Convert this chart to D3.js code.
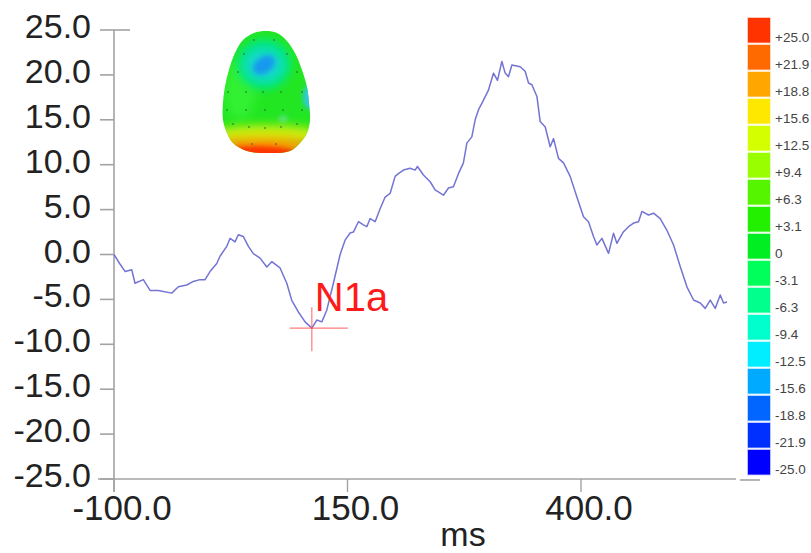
<!DOCTYPE html>
<html>
<head>
<meta charset="utf-8">
<script src="https://cdn.jsdelivr.net/npm/d3@7"></script>
<style>
  html, body { margin: 0; padding: 0; background: #fff; }
  svg { display: block; font-family: "Liberation Sans", Arial, sans-serif; }
</style>
</head>
<body>
<svg id="chart" width="811" height="553"></svg>
<script>
// Waveform: time (ms) and amplitude (µV)
const timeMs = [-100, -94, -88, -81, -77.5, -68.6, -61.4, -52.5, -38.2, -31.1, -22.1, -15.1, -7.9, -2.5,
  2.8, 10, 13.5, 20.7, 24.3, 29.6, 33.1, 38.5, 43.9, 49.2, 56.4, 63.6, 68.9, 77.8, 85, 90.3, 97.4,
  104.6, 111.8, 117.1, 122.5, 127.8, 134.9, 142.1, 147.4, 152.8, 156.3, 161.7, 167, 170.7, 174.2,
  179.6, 184.9, 190.3, 195.6, 201, 204.5, 209.9, 217, 222.4, 224.9, 231.3, 238.5, 243.8, 252.7,
  258.1, 263.4, 268.8, 274.1, 277.8, 283.1, 286.7, 290.2, 295.6, 300.9, 306.3, 310.6, 315.3, 318.8,
  322.3, 326, 334.9, 340.2, 343.8, 347.4, 352.8, 356.3, 361.7, 367, 370.6, 375.9, 381.3, 388.4,
  395.6, 402.7, 408, 413.4, 417, 422.4, 429.5, 434.8, 438.4, 445.5, 450.9, 456.3, 461.6, 465.2,
  472.3, 477.7, 484.8, 492, 499.1, 506.3, 513.4, 520.5, 527.7, 533, 538.4, 543.7, 549.1, 552.6, 556.3];
const amplitude = [0, -1.0, -1.9, -1.7, -3.2, -2.8, -4.0, -4.0, -4.3, -3.6, -3.4, -3.0, -2.8, -2.8,
  -1.9, -1.0, -0.2, 0.9, 1.8, 1.4, 2.2, 2.0, 0.9, 0.1, -0.4, -1.4, -0.8, -1.5, -3.2, -5.1, -6.4,
  -7.5, -8.2, -7.3, -7.5, -6.2, -3.2, 0.0, 1.6, 2.4, 2.5, 3.65, 3.3, 3.1, 4.0,
  3.65, 5.1, 6.4, 6.8, 8.7, 9.0, 9.4, 9.6, 9.4, 9.8, 8.85, 8.1, 7.2, 6.6,
  7.4, 7.55, 9.0, 10.2, 12.4, 13.1, 15.0, 16.1, 17.2, 18.3, 20.2, 19.4, 21.5, 20.2,
  19.8, 21.1, 20.9, 20.4, 19.1, 18.9, 17.6, 14.8, 14.2, 12.0, 12.9, 10.7, 10.2, 8.7,
  6.4, 4.2, 3.65, 2.0, 1.06, 1.8, 0.13, 2.36, 1.25, 2.54, 3.1, 3.5, 3.65, 4.8,
  4.4, 4.6, 4.0, 2.7, 1.06, -1.36, -3.6, -5.07, -5.4, -6.0, -5.07, -6.0, -4.5, -5.4, -5.3];

// Axis ticks
const xTicks = [-100, 150, 400];
const yTicks = [25, 20, 15, 10, 5, 0, -5, -10, -15, -20, -25];

// Labelled component
const peakName = "N1a";
const peakTime = 111.8;
const peakValue = -8.2;

// Colour legend (µV)
const legendLabels = ["+25.0", "+21.9", "+18.8", "+15.6", "+12.5", "+9.4", "+6.3", "+3.1", "0",
  "-3.1", "-6.3", "-9.4", "-12.5", "-15.6", "-18.8", "-21.9", "-25.0"];
const legendColors = ["#ff3300", "#ff6a00", "#ffa600", "#ffe800", "#d4ff00", "#99ff00", "#55f500", "#22f000",
  "#00ee22", "#00ff5a", "#00ff8c", "#00ffcc", "#00eeff", "#00aaff", "#0066ff", "#0030ff", "#0000ff"];

const svg = d3.select("#chart");

const x = d3.scaleLinear().domain([-100, 400]).range([114, 581]);
const y = d3.scaleLinear().domain([-25, 25]).range([479, 30]);
// one decimal, plain hyphen for the minus sign
const fmt = d => d3.format(".1f")(d).replace("\u2212", "-");

const axisColor = "#a3a3a3";
const g = svg.append("g");

// y axis line and ticks
g.append("line").attr("x1", x(-100)).attr("x2", x(-100)).attr("y1", y(25)).attr("y2", y(-25) + 13)
  .attr("stroke", axisColor).attr("stroke-width", 1.6);
g.selectAll(".ytick").data(yTicks).join("line")
  .attr("x1", 100).attr("x2", d => d === 25 ? 130 : x(-100))
  .attr("y1", d => y(d)).attr("y2", d => y(d))
  .attr("stroke", axisColor).attr("stroke-width", 1.6);
g.selectAll(".ylab").data(yTicks).join("text")
  .attr("x", 91).attr("y", d => y(d) + 8)
  .attr("text-anchor", "end").attr("font-size", 34).attr("fill", "#222")
  .text(fmt);

// x axis line and ticks
g.append("line").attr("x1", 98).attr("x2", 736).attr("y1", y(-25)).attr("y2", y(-25))
  .attr("stroke", axisColor).attr("stroke-width", 1.6);
g.selectAll(".xtick").data(xTicks).join("line")
  .attr("x1", d => x(d)).attr("x2", d => x(d))
  .attr("y1", y(-25)).attr("y2", y(-25) + 13)
  .attr("stroke", axisColor).attr("stroke-width", 1.4);
g.selectAll(".xlab").data(xTicks).join("text")
  .attr("x", d => x(d) + 8).attr("y", 520)
  .attr("text-anchor", "middle").attr("font-size", 35).attr("fill", "#222")
  .text(fmt);
g.append("text").attr("x", 463).attr("y", 546).attr("text-anchor", "middle")
  .attr("font-size", 34).attr("fill", "#222").text("ms");

// waveform
const pts = timeMs.map((t, i) => [t, amplitude[i]]);
g.append("path").datum(pts)
  .attr("fill", "none").attr("stroke", "#7474d4").attr("stroke-width", 1.5)
  .attr("stroke-linejoin", "round")
  .attr("d", d3.line().x(d => x(d[0])).y(d => y(d[1])));

// peak marker
const px = x(peakTime), py = y(peakValue);
g.append("line").attr("x1", px - 22).attr("x2", px + 36).attr("y1", py).attr("y2", py)
  .attr("stroke", "#ff5a5a").attr("stroke-width", 1.2).attr("opacity", 0.8);
g.append("line").attr("x1", px).attr("x2", px).attr("y1", py - 21).attr("y2", py + 23)
  .attr("stroke", "#ff5a5a").attr("stroke-width", 1.2).attr("opacity", 0.8);
g.append("text").attr("x", px + 3).attr("y", py - 17)
  .attr("font-size", 40).attr("fill", "#ff1a1a").text(peakName);

// colour legend
const leg = svg.append("g");
leg.selectAll("rect").data(legendColors).join("rect")
  .attr("x", 748).attr("y", (d, i) => 18 + i * 27)
  .attr("width", 22).attr("height", 24.5)
  .attr("fill", d => d).attr("stroke", d => d).attr("stroke-opacity", 0.35).attr("stroke-width", 1.5);
leg.selectAll("text").data(legendLabels).join("text")
  .attr("x", 775).attr("y", (d, i) => 18 + i * 27 + 24)
  .attr("font-size", 13.5).attr("fill", "#444").text(d => d);
leg.append("line").attr("x1", 740).attr("x2", 760).attr("y1", 480).attr("y2", 480)
  .attr("stroke", axisColor).attr("stroke-width", 1.6);

// scalp map
const defs = svg.append("defs");
const headOutline = [[266, 31], [277, 33], [286, 40], [295, 53], [302, 70], [307, 87], [309, 103],
  [310, 120], [307, 133], [300, 143], [290, 151], [268, 153], [247, 151], [233, 143], [227, 133],
  [223, 120], [223, 103], [225, 87], [229, 70], [235, 53], [243, 40], [254, 33]];
const headPath = d3.line().curve(d3.curveCatmullRomClosed)(headOutline);
defs.append("clipPath").attr("id", "head").append("path").attr("d", headPath);
const blur = defs.append("filter").attr("id", "soft").attr("x", "-50%").attr("y", "-50%")
  .attr("width", "200%").attr("height", "200%");
blur.append("feGaussianBlur").attr("stdDeviation", 5);
const blurS = defs.append("filter").attr("id", "softS").attr("x", "-50%").attr("y", "-50%")
  .attr("width", "200%").attr("height", "200%");
blurS.append("feGaussianBlur").attr("stdDeviation", 2.5);

const head = svg.append("g").attr("clip-path", "url(#head)");
head.append("rect").attr("x", 210).attr("y", 25).attr("width", 110).attr("height", 135).attr("fill", "#22e622");
const blobs = [
  { cx: 240, cy: 90, rx: 16, ry: 30, fill: "#33f033", f: "soft" },
  { cx: 264, cy: 64, rx: 27, ry: 25, fill: "#00e68a", f: "soft" },
  { cx: 264, cy: 65, rx: 19, ry: 16, fill: "#14d8cc", f: "soft" },
  { cx: 264, cy: 65, rx: 12, ry: 8, fill: "#1899ee", f: "softS", rot: -35 },
  { cx: 309, cy: 97, rx: 6, ry: 12, fill: "#30c8e0", f: "softS" },
  { cx: 283, cy: 119, rx: 4, ry: 3, fill: "#66ddaa", f: "softS" },
  { cx: 266, cy: 136, rx: 60, ry: 11, fill: "#ccee10", f: "soft" },
  { cx: 262, cy: 146, rx: 52, ry: 8, fill: "#ff9a00", f: "soft" },
  { cx: 256, cy: 154, rx: 42, ry: 8, fill: "#ff3000", f: "softS" }
];
head.selectAll("ellipse").data(blobs).join("ellipse")
  .attr("cx", d => d.cx).attr("cy", d => d.cy).attr("rx", d => d.rx).attr("ry", d => d.ry)
  .attr("transform", d => d.rot ? `rotate(${d.rot},${d.cx},${d.cy})` : null)
  .attr("fill", d => d.fill).attr("filter", d => `url(#${d.f})`);

// electrode positions
const electrodes = [[254, 40], [274, 40], [244, 54], [287, 54], [238, 72], [297, 72],
  [228, 92], [246, 92], [263, 92], [281, 92], [302, 92],
  [227, 110], [246, 110], [265, 110], [283, 110], [302, 110],
  [233, 124], [249, 127], [265, 128], [281, 127], [297, 124],
  [252, 144], [276, 144]];
head.selectAll("circle").data(electrodes).join("circle")
  .attr("cx", d => d[0]).attr("cy", d => d[1]).attr("r", 1)
  .attr("fill", "#335533").attr("opacity", 0.6);
</script>
</body>
</html>
